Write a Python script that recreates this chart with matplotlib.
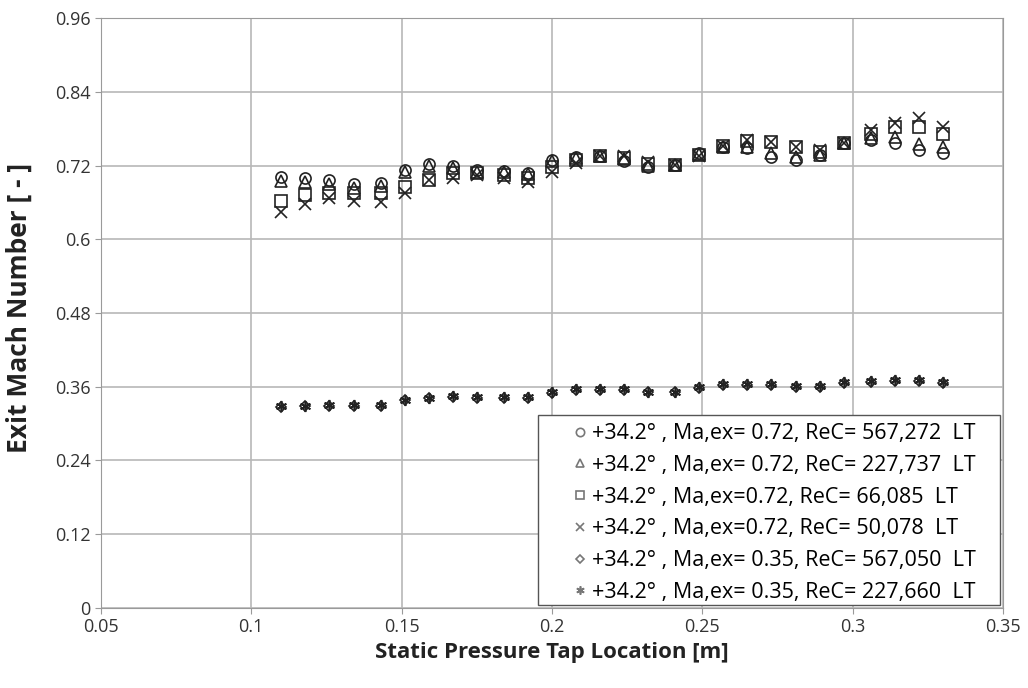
import matplotlib.pyplot as plt
from matplotlib.patches import Rectangle

x = [0.110, 0.118, 0.126, 0.134, 0.143, 0.151, 0.159, 0.167, 0.175, 0.184,
     0.192, 0.200, 0.208, 0.216, 0.224, 0.232, 0.241, 0.249, 0.257, 0.265,
     0.273, 0.281, 0.289, 0.297, 0.306, 0.314, 0.322, 0.330]

re567_072 = [0.701, 0.700, 0.696, 0.690, 0.691, 0.713, 0.722, 0.719, 0.712, 0.711,
             0.708, 0.729, 0.734, 0.735, 0.728, 0.718, 0.721, 0.740, 0.750, 0.748,
             0.734, 0.729, 0.737, 0.756, 0.761, 0.756, 0.746, 0.740]
re227_072 = [0.695, 0.693, 0.690, 0.684, 0.686, 0.710, 0.719, 0.716, 0.710, 0.709,
             0.706, 0.727, 0.733, 0.735, 0.730, 0.720, 0.721, 0.739, 0.750, 0.750,
             0.740, 0.734, 0.737, 0.756, 0.765, 0.767, 0.755, 0.750]
re66_072 = [0.662, 0.672, 0.675, 0.675, 0.675, 0.685, 0.697, 0.708, 0.708, 0.705,
            0.700, 0.718, 0.729, 0.735, 0.732, 0.722, 0.721, 0.737, 0.751, 0.760,
            0.758, 0.750, 0.742, 0.756, 0.772, 0.783, 0.783, 0.772]
re50_072 = [0.644, 0.657, 0.667, 0.662, 0.661, 0.675, 0.696, 0.700, 0.705, 0.700,
            0.693, 0.710, 0.724, 0.735, 0.735, 0.726, 0.721, 0.735, 0.751, 0.761,
            0.758, 0.750, 0.745, 0.756, 0.778, 0.789, 0.797, 0.783]
re567_035 = [0.327, 0.328, 0.329, 0.329, 0.329, 0.338, 0.341, 0.344, 0.342, 0.342,
             0.342, 0.350, 0.355, 0.355, 0.355, 0.351, 0.351, 0.358, 0.363, 0.363,
             0.363, 0.360, 0.360, 0.366, 0.368, 0.370, 0.370, 0.366]
re227_035 = [0.328, 0.329, 0.330, 0.330, 0.330, 0.339, 0.342, 0.345, 0.343, 0.343,
             0.343, 0.351, 0.356, 0.356, 0.356, 0.352, 0.352, 0.359, 0.364, 0.364,
             0.364, 0.361, 0.361, 0.367, 0.369, 0.371, 0.371, 0.367]

labels = ['+34.2° , Ma,ex= 0.72, ReC= 567,272  LT',
          '+34.2° , Ma,ex= 0.72, ReC= 227,737  LT',
          '+34.2° , Ma,ex=0.72, ReC= 66,085  LT',
          '+34.2° , Ma,ex=0.72, ReC= 50,078  LT',
          '+34.2° , Ma,ex= 0.35, ReC= 567,050  LT',
          '+34.2° , Ma,ex= 0.35, ReC= 227,660  LT']

plt.rcParams['font.family'] = ['Open Sans', 'DejaVu Sans']

fig = plt.figure(figsize=(10.28, 6.88), dpi=100)
ax = fig.add_axes([0.0982, 0.1163, 0.8775, 0.8575])

series = [re567_072, re227_072, re66_072, re50_072, re567_035, re227_035]
markers = ['o', '^', 's', 'x', 'D', (6, 2, 0)]
sizes = [8, 8, 8, 8, 5, 8]
for y, m, s, lab in zip(series, markers, sizes, labels):
    ax.plot(x, y, linestyle='none', marker=m, markersize=s, markerfacecolor='none',
            markeredgecolor='#222222', markeredgewidth=1.2, color='#222222', label=lab)

ax.set_xlim(0.05, 0.35)
ax.set_ylim(0, 0.96)
ax.set_xticks([0.05, 0.1, 0.15, 0.2, 0.25, 0.3, 0.35])
ax.set_xticklabels(['0.05', '0.1', '0.15', '0.2', '0.25', '0.3', '0.35'])
ax.set_yticks([0, 0.12, 0.24, 0.36, 0.48, 0.6, 0.72, 0.84, 0.96])
ax.set_yticklabels(['0', '0.12', '0.24', '0.36', '0.48', '0.6', '0.72', '0.84', '0.96'])
ax.grid(True, color='#b8b8b8', linewidth=1.2)
ax.set_axisbelow(True)
for sp in ax.spines.values():
    sp.set_color('#9a9a9a')
ax.tick_params(labelsize=13, colors='#333333', length=4, color='#9a9a9a')

ax.set_xlabel('Static Pressure Tap Location [m]', fontsize=16, fontweight='bold',
              color='#222222', labelpad=4)
ax.set_ylabel('Exit Mach Number [ - ]', fontsize=19, fontweight='bold',
              color='#222222')
ax.yaxis.set_label_coords(-0.0754, 0.509)

# legend box drawn separately so the text can sit with Excel-like padding
box = Rectangle((0.4845, 0.005), 0.5122, 0.322, transform=ax.transAxes,
                facecolor='white', edgecolor='#555555', linewidth=1.0, zorder=4)
ax.add_patch(box)

leg = ax.legend(loc='lower left', fontsize=15.5, frameon=False,
                handlelength=0.8, handletextpad=0.15, borderpad=0,
                labelspacing=0.5, markerscale=0.75, borderaxespad=0,
                bbox_to_anchor=(0.522, 0.0085))
leg.set_zorder(5)
for h in leg.legend_handles:
    h.set_markeredgecolor('#777777')

fig.savefig('out.png', dpi=100)
